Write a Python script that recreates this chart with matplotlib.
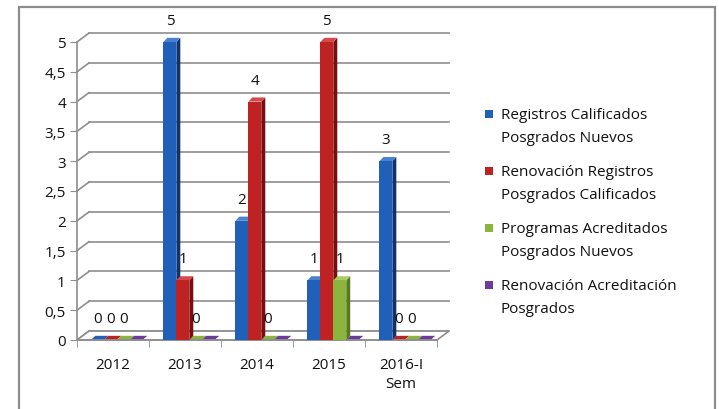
import numpy as np
import matplotlib.pyplot as plt
from matplotlib.patches import Polygon, Rectangle

plt.rcParams['font.family'] = ['Open Sans', 'DejaVu Sans']

categories = ['2012', '2013', '2014', '2015', '2016-I\nSem']
series = ['Registros Calificados\nPosgrados Nuevos',
          'Renovación Registros\nPosgrados Calificados',
          'Programas Acreditados\nPosgrados Nuevos',
          'Renovación Acreditación\nPosgrados']
registros = [0, 5, 2, 1, 3]
renovacion_reg = [0, 1, 4, 5, 0]
acreditados = [0, 0, 0, 1, 0]
renovacion_acr = [0, 0, 0, 0, 0]
values = [registros, renovacion_reg, acreditados, renovacion_acr]
show_labels = [True, True, True, False]
yticks = [0, 0.5, 1, 1.5, 2, 2.5, 3, 3.5, 4, 4.5, 5]
ytick_labels = ['0', '0,5', '1', '1,5', '2', '2,5', '3', '3,5', '4', '4,5', '5']

front = ['#2160B9', '#BE2222', '#8BB53D', '#6B3C9B']
side = ['#0E3370', '#7A0E0E', '#587A1E', '#3E1E66']
top = ['#4A82D0', '#D84A4A', '#A8CC60', '#8A5CB8']

W, H = 719, 410
fig = plt.figure(figsize=(W / 100, H / 100), dpi=100)
ax = fig.add_axes([77 / W, (H - 341) / H, 360 / W, 298 / H])
ax.set_xlim(-0.5, 4.5)
ax.set_ylim(0, 5)

# outer frame
fig.patches.append(Rectangle((19 / W, -0.05), 696 / W, 1.05 - 8 / H,
                             transform=fig.transFigure, fill=False,
                             edgecolor='#8C8C8C', lw=1.6))

gx, gy = 0.167, 0.15      # back wall offset
bx, by = 0.055, 0.07      # bar depth
bw = 0.18
shift = 0.06
grid_c = '#8E8E8E'
fs = 11
txt_c = '#111111'

# back wall grid + left wall connectors
for v in yticks:
    ax.plot([-0.5 + gx, 4.5 + gx], [v + gy, v + gy], color=grid_c, lw=1.2,
            clip_on=False, zorder=1)
    ax.plot([-0.5, -0.5 + gx], [v, v + gy], color=grid_c, lw=1.2,
            clip_on=False, zorder=1)

# floor
ax.add_patch(Polygon([(-0.5, 0), (4.5, 0), (4.5 + gx, gy), (-0.5 + gx, gy)],
                     closed=True, facecolor='white', edgecolor=grid_c, lw=1.2,
                     clip_on=False, zorder=1.5))

x = np.arange(len(categories))
for i, vals in enumerate(values):
    for j, v in enumerate(vals):
        x0 = x[j] + shift - 2 * bw + i * bw
        x1 = x0 + bw
        if v > 0:
            ax.add_patch(Polygon([(x1, 0), (x1 + bx, by), (x1 + bx, v + by), (x1, v)],
                                 closed=True, facecolor=side[i], lw=0,
                                 clip_on=False, zorder=3 + i))
            ax.add_patch(Polygon([(x0, v), (x1, v), (x1 + bx, v + by), (x0 + bx, v + by)],
                                 closed=True, facecolor=top[i], lw=0,
                                 clip_on=False, zorder=3 + i))
            ax.add_patch(Rectangle((x0, 0), bw, v, facecolor=front[i], lw=0,
                                   clip_on=False, zorder=3 + i))
        else:
            ax.add_patch(Polygon([(x0, 0.01), (x1, 0.01), (x1 + bx, by), (x0 + bx, by)],
                                 closed=True, facecolor=front[i], lw=0,
                                 clip_on=False, zorder=2))
        if show_labels[i]:
            ax.text(x0 + bw / 2, v + 0.36, str(v), ha='center', va='center',
                    fontsize=fs, color=txt_c, zorder=10)

for s in ['top', 'right']:
    ax.spines[s].set_visible(False)
ax.spines['left'].set_color(grid_c)
ax.spines['bottom'].set_color(grid_c)
ax.spines['left'].set_linewidth(1.2)
ax.spines['bottom'].set_linewidth(1.2)

ax.set_yticks(yticks)
ax.set_yticklabels(ytick_labels, fontsize=fs, color=txt_c)
ax.tick_params(axis='y', length=5, color=grid_c, pad=3)
ax.set_xticks(x)
ax.set_xticklabels(categories, fontsize=fs, linespacing=1.35, color=txt_c)
ax.set_xticks(np.arange(-0.5, 5, 1), minor=True)
ax.tick_params(axis='x', which='major', length=0, pad=12)
ax.tick_params(axis='x', which='minor', length=5, color=grid_c)

# legend, square beside the first line of each entry
for k, name in enumerate(series):
    yline = 115 + 57 * k
    fig.patches.append(Rectangle((485 / W, 1 - (yline + 4) / H), 8 / W, 8 / H,
                                 transform=fig.transFigure, facecolor=front[k],
                                 edgecolor='none'))
    fig.text(501 / W, 1 - (yline - 7) / H, name, ha='left', va='top',
             fontsize=fs, linespacing=1.7, color=txt_c,
             transform=fig.transFigure)

fig.savefig('out.png', dpi=100)
